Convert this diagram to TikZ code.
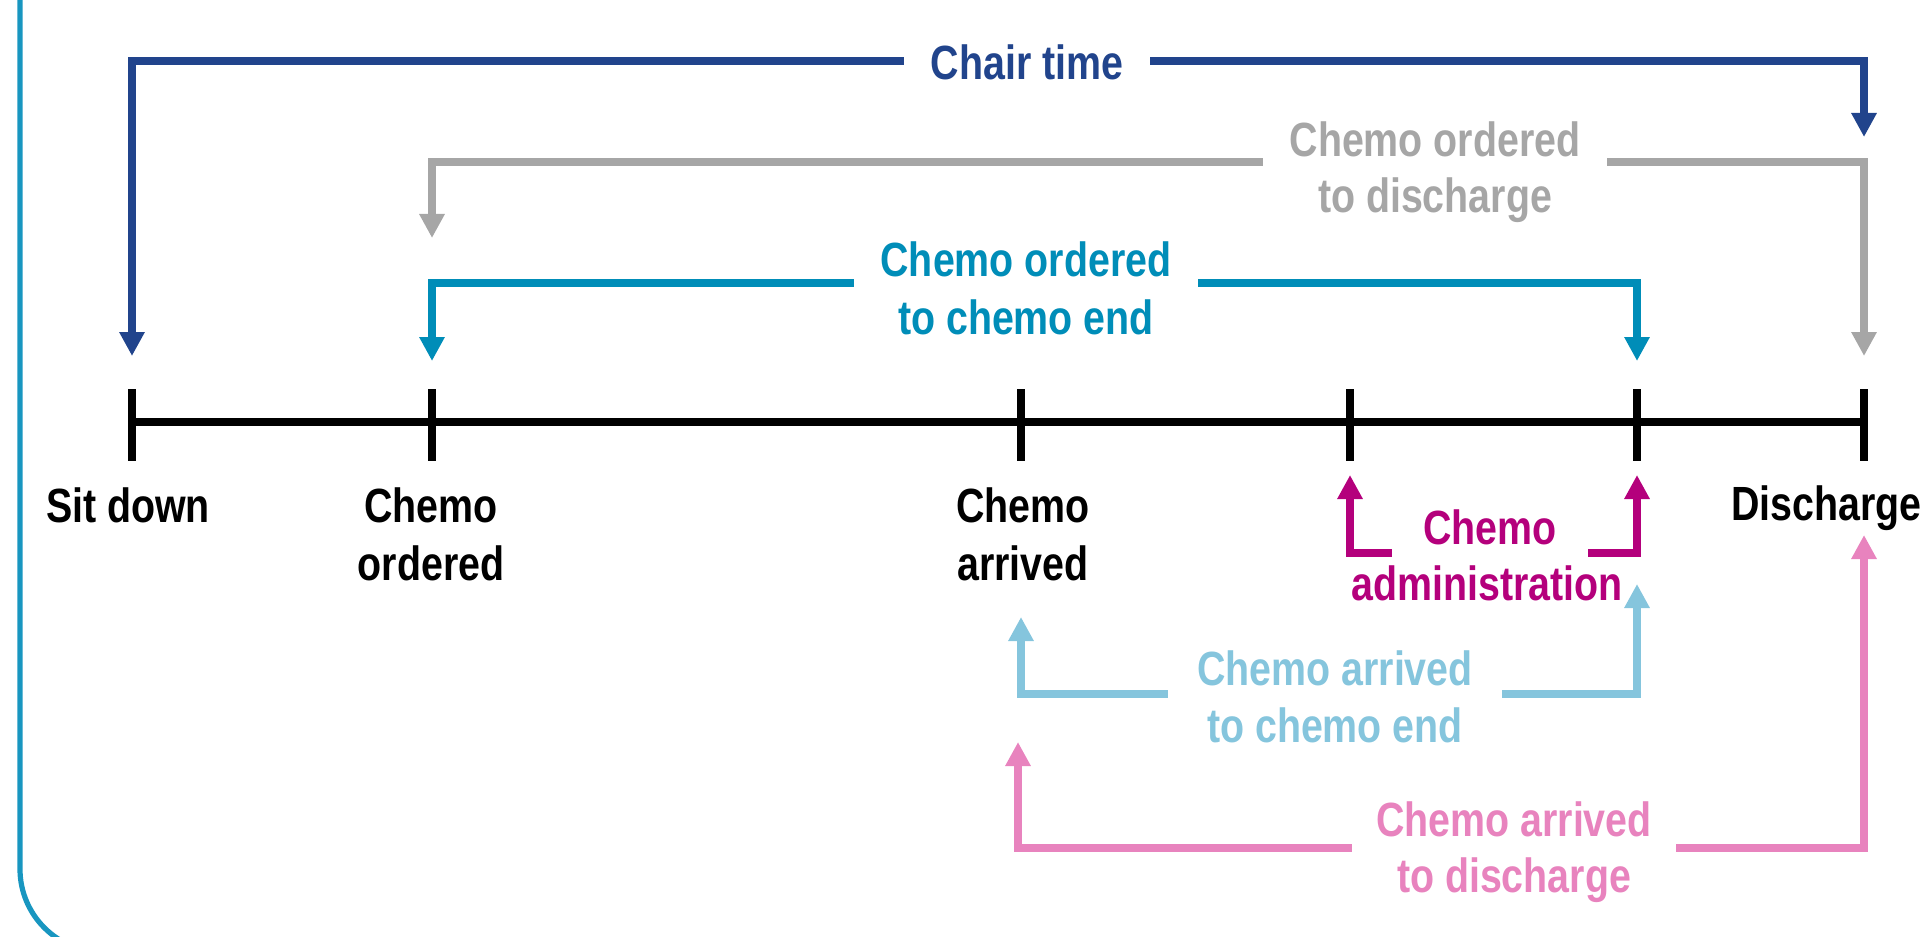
\documentclass[tikz,border=0pt]{standalone}
\usepackage{fontspec}
\setmainfont{Liberation Sans}[FakeStretch=0.82]
\usetikzlibrary{arrows.meta}
\definecolor{chairblue}{RGB}{33,68,140}
\definecolor{ordgray}{RGB}{166,166,166}
\definecolor{ordteal}{RGB}{0,141,184}
\definecolor{admmag}{RGB}{180,0,124}
\definecolor{arrlight}{RGB}{133,197,221}
\definecolor{arrpink}{RGB}{232,131,190}
\definecolor{framecol}{RGB}{24,150,192}
\begin{document}
\begin{tikzpicture}[x=0.5pt,y=-0.5pt,
  lbl/.style={font=\fontsize{24}{28}\selectfont\bfseries, inner sep=0pt, anchor=base},
  mask/.style={lbl, fill=white, inner xsep=13.5pt, inner ysep=8pt},
  conn/.style={line width=3.6pt, line join=miter,
    {Triangle[length=12pt,width=12pt]}-{Triangle[length=12pt,width=12pt]}},
  tickmark/.style={line width=3.8pt, black},
  axis/.style={line width=4pt, black},
  frame/.style={line width=2.6pt, framecol}]
\useasboundingbox (0,0) rectangle (1920,936);
% frame
\draw[frame] (20,-20) -- (20,869) arc[start angle=180, end angle=90, radius=83] -- (2000,952);
% timeline points
\coordinate (t1) at (132,422);
\coordinate (t2) at (432,422);
\coordinate (t3) at (1021,422);
\coordinate (t4) at (1350,422);
\coordinate (t5) at (1637,422);
\coordinate (t6) at (1864,422);
\draw[axis] (t1) -- (t6);
\foreach \t in {t1,t2,t3,t4,t5,t6}
  \draw[tickmark] (\t) ++(0,-33) -- ++(0,72);
% connector end points
\coordinate (chL) at (132,356);  \coordinate (chC) at (1864,61);  \coordinate (chR) at (1864,137);
\coordinate (grL) at (432,238);  \coordinate (grC) at (1864,162); \coordinate (grR) at (1864,356);
\coordinate (tlL) at (432,361);  \coordinate (tlC) at (1637,283); \coordinate (tlR) at (1637,361);
\coordinate (mgL) at (1350,475); \coordinate (mgC) at (1637,553); \coordinate (mgR) at (1637,475);
\coordinate (lbL) at (1021,617); \coordinate (lbC) at (1637,694); \coordinate (lbR) at (1637,584);
\coordinate (pkL) at (1018,742); \coordinate (pkC) at (1864,848); \coordinate (pkR) at (1864,535);
% connectors
\draw[conn, chairblue] (chL) |- (chC) -- (chR);
\draw[conn, ordgray]   (grL) |- (grC) -- (grR);
\draw[conn, ordteal]   (tlL) |- (tlC) -- (tlR);
\draw[conn, admmag]    (mgL) |- (mgC) -- (mgR);
\draw[conn, arrlight]  (lbL) |- (lbC) -- (lbR);
\draw[conn, arrpink]   (pkL) |- (pkC) -- (pkR);
% connector labels
\node[mask, text=chairblue] (chairA) at (1027,80) {Chair time};
\node[mask, text=ordgray] (grayA) at (1435,157) {Chemo ordered};
\node[lbl, text=ordgray] (grayB) at (1435,213) {to discharge};
\node[mask, text=ordteal] (tealA) at (1026,277) {Chemo ordered};
\node[lbl, text=ordteal] (tealB) at (1026,334) {to chemo end};
\node[mask, text=admmag, inner xsep=15.5pt] (magA) at (1490,544) {Chemo};
\node[lbl, text=admmag] (magB) at (1487,600) {administration};
\node[mask, text=arrlight, inner xsep=14.5pt] (lightA) at (1335,685) {Chemo arrived};
\node[lbl, text=arrlight] (lightB) at (1335,742) {to chemo end};
\node[mask, text=arrpink, inner xsep=12pt] (pinkA) at (1514,836) {Chemo arrived};
\node[lbl, text=arrpink] (pinkB) at (1514,892) {to discharge};
% event labels
\node[lbl] (sitdown) at (128,522) {Sit down};
\node[lbl] (ordA) at (431,522) {Chemo};
\node[lbl] (ordB) at (431,580) {ordered};
\node[lbl] (arrA) at (1023,522) {Chemo};
\node[lbl] (arrB) at (1023,580) {arrived};
\node[lbl, anchor=base west] (disch) at (1731,520) {Discharge};
\end{tikzpicture}
\end{document}
